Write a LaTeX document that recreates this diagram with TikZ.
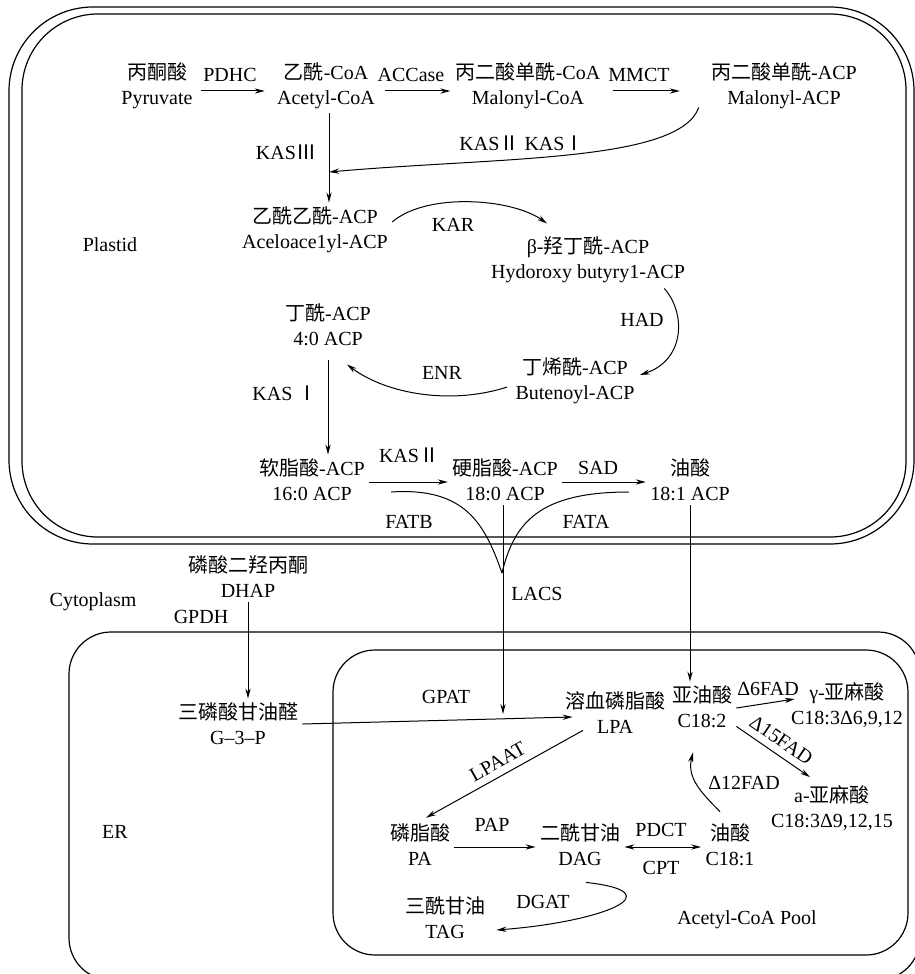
\documentclass[tikz,border=0pt]{standalone}
\usepackage{fontspec}
\setmainfont{Liberation Serif}
\newfontfamily\cjk{Noto Sans CJK SC}
\newcommand{\zh}[1]{{\cjk #1}}
\usetikzlibrary{arrows.meta, positioning, calc}

\tikzset{
  met/.style={align=center, inner sep=2pt},
  enz/.style={inner sep=1pt},
  membrane/.style={line width=0.6pt},
  flow/.style={->, line width=0.5pt},
}

\begin{document}
\begin{tikzpicture}[x=0.5pt,y=-0.5pt, font=\fontsize{10}{12.5}\selectfont,
    >={Stealth[length=5pt,width=2.6pt]}]
  \useasboundingbox (0,0) rectangle (915,974);

  \draw[membrane, rounded corners=42pt] (9,7) rectangle (914,544);
  \draw[membrane, rounded corners=38pt] (22,14) rectangle (906,537);
  \draw[membrane, rounded corners=21pt] (69,632) rectangle (920,980);
  \draw[membrane, rounded corners=21pt] (333,650) rectangle (908,955);

  \node (plastid) at (110,245) {Plastid};
  \node (cyto) at (93,602) {Cytoplasm};
  \node (er) at (115,832) {ER};
  \node (pool) at (747,920) {Acetyl-CoA Pool};

  \node[met] (pyr)   at (157,86)  {\zh{丙酮酸}\\Pyruvate};
  \node[met] (acoa)  at (326,86)  {\zh{乙酰}-CoA\\Acetyl-CoA};
  \node[met] (mcoa)  at (528,86)  {\zh{丙二酸单酰}-CoA\\Malonyl-CoA};
  \node[met] (macp)  at (784,86)  {\zh{丙二酸单酰}-ACP\\Malonyl-ACP};
  \node[met] (acac)  at (315,230) {\zh{乙酰乙酰}-ACP\\Aceloace1yl-ACP};
  \node[met] (hbut)  at (588,260) {β-\zh{羟丁酰}-ACP\\Hydoroxy butyry1-ACP};
  \node[met] (but4)  at (328,325) {\zh{丁酰}-ACP\\4:0 ACP};
  \node[met] (buten) at (575,381) {\zh{丁烯酰}-ACP\\Butenoyl-ACP};
  \node[met] (pal)   at (312,480) {\zh{软脂酸}-ACP\\16:0 ACP};
  \node[met] (ste)   at (505,480) {\zh{硬脂酸}-ACP\\18:0 ACP};
  \node[met] (ole)   at (690,480) {\zh{油酸}\\18:1 ACP};
  \node[met] (dhap)  at (248,577) {\zh{磷酸二羟丙酮}\\DHAP};
  \node[met] (g3p)   at (238,724) {\zh{三磷酸甘油醛}\\G--3--P};
  \node[met] (lpa)   at (615,713) {\zh{溶血磷脂酸}\\LPA};
  \node[met] (lino)  at (702,707) {\zh{亚油酸}\\C18:2};
  \node[met] (gla)   at (847,705) {γ-\zh{亚麻酸}\\C18:3Δ6,9,12};
  \node[met] (ala)   at (832,808) {a-\zh{亚麻酸}\\C18:3Δ9,12,15};
  \node[met] (pa)    at (420,845) {\zh{磷脂酸}\\PA};
  \node[met] (dag)   at (580,845) {\zh{二酰甘油}\\DAG};
  \node[met] (c181)  at (730,845) {\zh{油酸}\\C18:1};
  \node[met] (tag)   at (445,918) {\zh{三酰甘油}\\TAG};

  \node[enz] (pdhc)   at (230,75)  {PDHC};
  \node[enz] (accase) at (411,75)  {ACCase};
  \node[enz] (mmct)   at (639,75)  {MMCT};
  \node[enz] (kas3)   at (286,152) {KAS\zh{Ⅲ}};
  \node[enz] (kas21)  at (522,143) {KAS\zh{Ⅱ} KAS\zh{Ⅰ}};
  \node[enz] (kar)    at (453,225) {KAR};
  \node[enz] (had)    at (642,320) {HAD};
  \node[enz] (enr)    at (442,373) {ENR};
  \node[enz] (kas1)   at (285,393) {KAS \zh{Ⅰ}};
  \node[enz] (kas2)   at (409,455) {KAS\zh{Ⅱ}};
  \node[enz] (sad)    at (598,468) {SAD};
  \node[enz] (fatb)   at (409,522) {FATB};
  \node[enz] (fata)   at (586,522) {FATA};
  \node[enz] (lacs)   at (537,594) {LACS};
  \node[enz] (gpdh)   at (201,617) {GPDH};
  \node[enz] (gpat)   at (446,697) {GPAT};
  \node[enz] (fad6)   at (768,689) {Δ6FAD};
  \node[enz] (fad12)  at (744,783) {Δ12FAD};
  \node[enz] (pap)    at (492,825) {PAP};
  \node[enz] (pdct)   at (661,830) {PDCT};
  \node[enz] (cpt)    at (661,868) {CPT};
  \node[enz] (dgat)   at (543,902) {DGAT};

  \coordinate (kasj) at (329,172);
  \coordinate (vj) at (502,573);
  \coordinate (lacsj) at (503,714);

  \draw[flow] ($(pyr.east)+(4,5)$) -- ($(acoa.west)+(-8,5)$);
  \draw[flow] ($(acoa.east)+(6,5)$) -- ($(mcoa.west)+(-1,5)$);
  \draw[flow] ($(mcoa.east)+(8,5)$) -- ($(macp.west)+(-27,5)$);
  \draw[flow] (kasj |- acoa.south) -- (kasj |- acac.north);
  \draw[flow] ($(macp.south west)+(-8,-6)$) .. controls +(-20,55) and +(170,-15) .. (kasj);

  \draw[flow] ($(acac.east)+(0,-8)$) .. controls +(35,-30) and +(-35,-25) .. ($(hbut.north)+(-41,-9)$);
  \draw[flow] ($(hbut.south east)+(-25,1)$) .. controls +(22,25) and +(45,-15) .. ($(buten.east)+(1,-6)$);
  \draw[flow] ($(buten.west)+(-4,6)$) .. controls +(-55,18) and +(40,30) .. ($(but4.south)+(19,14)$);
  \draw[flow] ($(but4.south)+(0,10)$) -- (but4.south |- pal.north);

  \draw[flow] ($(pal.east)+(0,2)$) -- ($(ste.west)+(0,2)$);
  \draw[flow] ($(ste.east)+(0,2)$) -- ($(ole.west)+(0,2)$);
  \draw[line width=0.5pt] ($(pal.east)+(22,12)$) .. controls +(75,-5) and +(-17,-48) .. (vj);
  \draw[line width=0.5pt] ($(ole.west)+(-17,12)$) .. controls +(-90,0) and +(12,-50) .. (vj);
  \draw[flow] (lacsj |- ste.south) -- (lacsj);
  \draw[flow] (ole.south) -- (ole.south |- lino.north);

  \draw[flow] (dhap.south) -- (dhap.south |- g3p.north);
  \draw[flow] (g3p.east) -- ($(lpa.west)+(12,4)$);
  \draw[flow] ($(lino.east)+(0,1)$) -- ($(gla.west)+(8,-6)$);
  \draw[flow] ($(lino.south east)+(0,-6)$) -- node[sloped, above=2.5pt, enz] {Δ15FAD} ($(ala.north)+(-22,-4)$);
  \draw[flow] ($(lpa.south)+(-32,-8)$) -- node[sloped, above=2.5pt, enz] {LPAAT} ($(pa.north)+(6,-2)$);
  \draw[flow] ($(pa.east)+(0,2)$) -- ($(dag.west)+(0,2)$);
  \draw[<->, line width=0.5pt] ($(dag.east)+(0,2)$) -- ($(c181.west)+(0,2)$);
  \draw[flow] ($(c181.north)+(-10,-8)$) .. controls +(-20,-20) and +(-6,25) .. ($(lino.south)+(-9,20)$);
  \draw[flow] ($(dag.south)+(6,12)$) .. controls +(90,10) and +(105,-8) .. ($(tag.east)+(7,12)$);
\end{tikzpicture}
\end{document}
